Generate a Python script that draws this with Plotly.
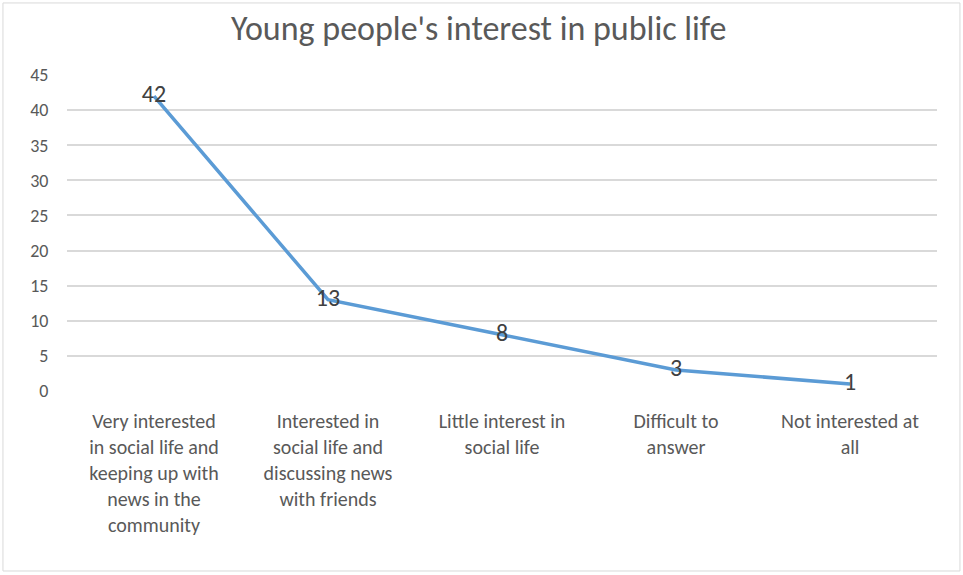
import plotly.graph_objects as go

# Survey categories (wrapped for the axis) and response counts
categories = [
    "Very interested<br>in social life and<br>keeping up with<br>news in the<br>community",
    "Interested in<br>social life and<br>discussing news<br>with friends",
    "Little interest in<br>social life",
    "Difficult to<br>answer",
    "Not interested at<br>all",
]
values = [42, 13, 8, 3, 1]
y_ticks = [0, 5, 10, 15, 20, 25, 30, 35, 40, 45]

FONT = "Carlito, 'Liberation Sans Narrow', 'Open Sans', sans-serif"

fig = go.Figure(
    go.Scatter(
        x=categories,
        y=values,
        mode="lines+text",
        line=dict(color="#5b9bd5", width=3.5),
        text=[str(v) for v in values],
        textposition="middle center",
        textfont=dict(family=FONT, size=24, color="#404040"),
        cliponaxis=False,
        showlegend=False,
    )
)

fig.update_layout(
    width=963,
    height=575,
    paper_bgcolor="white",
    plot_bgcolor="white",
    margin=dict(l=67, r=26, t=75, b=184),
    title=dict(
        text="Young people's interest in public life",
        x=0.497,
        xanchor="center",
        y=0.952,
        yanchor="middle",
        font=dict(family=FONT, size=34, color="#595959"),
    ),
    font=dict(family=FONT, color="#595959"),
    shapes=[
        dict(
            type="rect",
            xref="paper",
            yref="paper",
            x0=-0.0736,
            x1=1.0264,
            y0=-0.5696,
            y1=1.228,
            line=dict(color="#d9d9d9", width=1),
            fillcolor="rgba(0,0,0,0)",
            layer="below",
        )
    ],
)

fig.update_xaxes(
    range=[-0.5, 4.5],
    showgrid=False,
    showline=False,
    ticks="outside",
    ticklen=12,
    tickcolor="rgba(0,0,0,0)",
    tickfont=dict(family=FONT, size=20, color="#595959"),
    tickangle=0,
)

fig.update_yaxes(
    range=[0, 45],
    tickvals=y_ticks,
    showgrid=True,
    gridcolor="#d9d9d9",
    gridwidth=1.5,
    zeroline=False,
    showline=False,
    ticks="outside",
    ticklen=14,
    tickcolor="rgba(0,0,0,0)",
    tickfont=dict(family=FONT, size=18, color="#595959"),
)

fig.write_html("out.html")
